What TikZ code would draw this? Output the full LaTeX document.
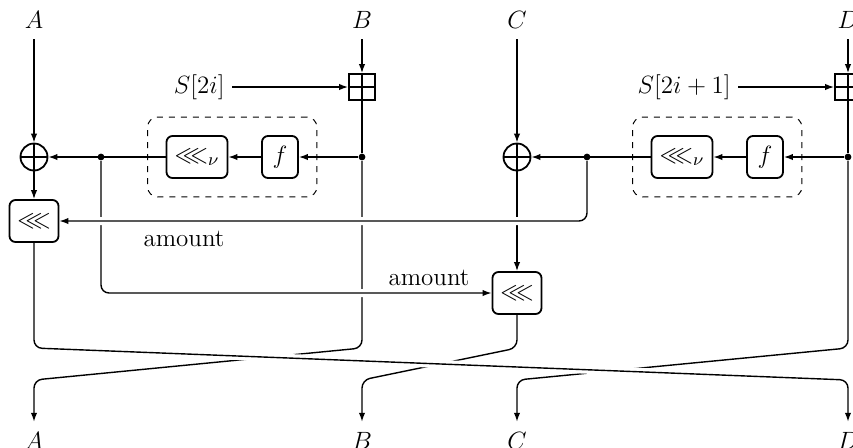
\RequirePackage{fix-cm}
\documentclass[tikz,border=0pt]{standalone}
\usepackage{amsmath, amssymb}
\usepackage{tikz}
\usetikzlibrary{arrows.meta, fit}

\tikzset{
  roundbox/.style={draw, line width=0.9pt, rounded corners=3pt, minimum height=21pt, inner sep=2pt},
  xorop/.style={draw, circle, line width=0.9pt, minimum size=13.5pt, inner sep=0pt,
    path picture={\draw[line width=0.9pt] (path picture bounding box.north) -- (path picture bounding box.south)
      (path picture bounding box.west) -- (path picture bounding box.east);}},
  addop/.style={draw, rectangle, line width=0.9pt, minimum size=13pt, inner sep=0pt,
    path picture={\draw[line width=0.9pt] (path picture bounding box.north) -- (path picture bounding box.south)
      (path picture bounding box.west) -- (path picture bounding box.east);}},
  joint/.style={circle, fill, inner sep=0pt, minimum size=3.4pt},
  wordlbl/.style={inner sep=5pt},
  keybox/.style={draw, dashed, line width=0.5pt, rounded corners=5pt, inner sep=9pt},
  crossing/.style={preaction={draw=white, line width=4pt, -, shorten >=3pt, shorten <=3pt}},
}

\begin{document}
\begin{tikzpicture}[x=0.5pt, y=-0.5pt, line width=0.7pt, >={Latex[length=4.5pt,width=3.2pt]},
    font=\fontsize{12.5}{15}\selectfont]
  \useasboundingbox (0,0) rectangle (853,447);
  % ============ words in ============
  \node[wordlbl] (inA) at (34,20) {$A$};
  \node[wordlbl] (inB) at (362,20) {$B$};
  \node[wordlbl] (inC) at (517,20) {$C$};
  \node[wordlbl] (inD) at (848,20) {$D$};
  % ============ first half round ============
  \node[xorop] (xorA) at (34,157) {};
  \node[addop] (addB) at (362,87) {};
  \node[anchor=east] (keyA) at (232,87) {$S[2i]$};
  \node[joint] (dotB) at (362,157) {};
  \node[roundbox, minimum width=18pt] (fA) at (280,157) {$f$};
  \node[roundbox, minimum width=30.5pt] (rotvA) at (197,157) {$\lll_{\nu}$};
  \node[keybox, fit=(fA)(rotvA)] (boxA) {};
  \node[joint] (dotL) at (101,157) {};
  \node[roundbox, minimum width=24.5pt] (rotA) at (34,221) {$\lll$};
  % ============ second half round ============
  \node[xorop] (xorC) at (517,157) {};
  \node[addop] (addD) at (848,87) {};
  \node[anchor=east] (keyC) at (738,87) {$S[2i+1]$};
  \node[joint] (dotD) at (848,157) {};
  \node[roundbox, minimum width=18pt] (fC) at (765,157) {$f$};
  \node[roundbox, minimum width=30.5pt] (rotvC) at (682,157) {$\lll_{\nu}$};
  \node[keybox, fit=(fC)(rotvC)] (boxC) {};
  \node[joint] (dotR) at (587,157) {};
  \node[roundbox, minimum width=24.5pt] (rotC) at (517,293) {$\lll$};
  % ============ words out ============
  \node[wordlbl] (outA) at (34,441) {$A$};
  \node[wordlbl] (outB) at (362,441) {$B$};
  \node[wordlbl] (outC) at (517,441) {$C$};
  \node[wordlbl] (outD) at (848,441) {$D$};

  % inputs
  \draw[->] (inA) -- (xorA);
  \draw[->] (xorA) -- (rotA);
  \draw[->] (inB) -- (addB);
  \draw[->] (keyA.east) -- (addB.west);
  \draw (addB) -- (dotB);
  \draw[->] (inC) -- (xorC);
  \draw[->] (inD) -- (addD);
  \draw[->] (keyC.east) -- (addD.west);
  \draw (addD) -- (dotD);
  % going down, drawn first so the others pass over them
  \draw[->, rounded corners=4pt] (dotB) -- (362,348) -- (34,380) -- (outA);
  \draw[->] (xorC) -- (rotC);
  \draw[->, rounded corners=4pt] (rotC) -- (517,348) -- (362,380) -- (outB);
  \draw[->, rounded corners=4pt] (dotD) -- (848,348) -- (517,380) -- (outC);
  % rotation amounts
  \draw[->, crossing, rounded corners=4pt] (dotL) |- (rotC);
  \node (amtC) at (429,278) {amount};
  \draw[->, crossing, rounded corners=4pt] (dotR) |- (rotA);
  \node (amtA) at (184,239) {amount};
  % swap
  \draw[->, crossing, rounded corners=4pt] (rotA) -- (34,348) -- (848,380) -- (outD);
  % round functions
  \draw[->] (dotB) -- (fA);
  \draw[->] (fA) -- (rotvA);
  \draw[->] (rotvA) -- (dotL.center) -- (xorA);
  \draw[->] (dotD) -- (fC);
  \draw[->] (fC) -- (rotvC);
  \draw[->] (rotvC) -- (dotR.center) -- (xorC);
\end{tikzpicture}
\end{document}
